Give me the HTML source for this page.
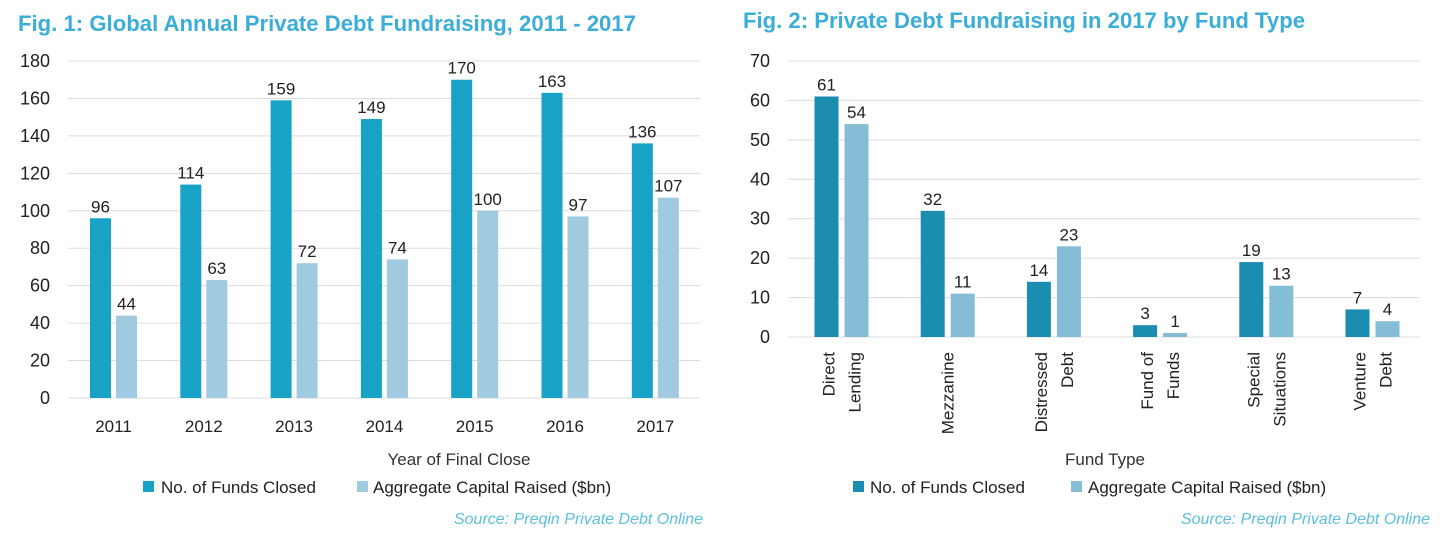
<!DOCTYPE html>
<html><head><meta charset="utf-8"><style>
body{margin:0;background:#fff;width:1447px;height:537px;overflow:hidden;font-family:"Liberation Sans",sans-serif}
svg text{font-family:"Liberation Sans",sans-serif}
</style></head><body>
<svg id="s" width="1447" height="537">
<text x="18" y="31" font-size="22" font-weight="bold" fill="#3aaed8" textLength="618" lengthAdjust="spacingAndGlyphs">Fig. 1: Global Annual Private Debt Fundraising, 2011 - 2017</text>
<text x="743" y="28" font-size="22" font-weight="bold" fill="#3aaed8" textLength="562" lengthAdjust="spacingAndGlyphs">Fig. 2: Private Debt Fundraising in 2017 by Fund Type</text>
<text x="459" y="465" font-size="17" text-anchor="middle" fill="#333">Year of Final Close</text>
<text x="1105" y="465" font-size="17" text-anchor="middle" fill="#333">Fund Type</text>
<g>
<rect x="143" y="481" width="11" height="11" fill="#17a2c6"/><text x="161" y="493" font-size="17" fill="#222">No. of Funds Closed</text>
<rect x="357" y="481" width="11" height="11" fill="#9fcadf"/><text x="373" y="493" font-size="17" fill="#222">Aggregate Capital Raised ($bn)</text>
</g>
<g>
<rect x="853" y="481" width="11" height="11" fill="#1a8db0"/><text x="870" y="493" font-size="17" fill="#222">No. of Funds Closed</text>
<rect x="1071" y="481" width="11" height="11" fill="#85bcd6"/><text x="1088" y="493" font-size="17" fill="#222">Aggregate Capital Raised ($bn)</text>
</g>
<text x="703" y="524" font-size="16" font-style="italic" text-anchor="end" fill="#5bbfe0">Source: Preqin Private Debt Online</text>
<text x="1430" y="524" font-size="16" font-style="italic" text-anchor="end" fill="#5bbfe0">Source: Preqin Private Debt Online</text>
</svg>
<script>
const years=["2011","2012","2013","2014","2015","2016","2017"];
const funds1=[96,114,159,149,170,163,136];
const capital1=[44,63,72,74,100,97,107];
const ticks1=[0,20,40,60,80,100,120,140,160,180];
const types=[["Direct","Lending"],["Mezzanine"],["Distressed","Debt"],["Fund of","Funds"],["Special","Situations"],["Venture","Debt"]];
const funds2=[61,32,14,3,19,7];
const capital2=[54,11,23,1,13,4];
const ticks2=[0,10,20,30,40,50,60,70];
const NS="http://www.w3.org/2000/svg",svg=document.getElementById('s');
function mk(t,a,txt){const e=document.createElementNS(NS,t);for(const k in a)e.setAttribute(k,a[k]);if(txt!=null)e.textContent=txt;svg.appendChild(e);return e;}
function chart(o){
 const y=v=>o.y0-(v-o.min)/(o.max-o.min)*(o.y0-o.y1);
 o.ticks.forEach(t=>{
  const g=mk('line',{x1:o.gx0,x2:o.gx1,y1:y(t),y2:y(t),stroke:'#dcdcdc','stroke-width':1});
  
  
  const l=mk('text',{x:o.tx,y:y(t)+6,'font-size':18,'text-anchor':'end',fill:'#222'},t);
  
  
 });
 o.cats.forEach((c,i)=>{
  const cx=o.cx0+i*o.step;
  [[o.s1,o.c1,-1],[o.s2,o.c2,1]].forEach(([s,col,d])=>{
   const x=d<0?cx-o.gap/2-o.bw:cx+o.gap/2,v=s[i];
   const r=mk('rect',{x:x,y:y(v),width:o.bw,height:o.y0-y(v),fill:col});
   
   
   const t=mk('text',{x:x+o.bw/2,y:y(v)-6,'font-size':17,'text-anchor':'middle',fill:'#222'},v);
   
   
  });
  o.lab(c,cx);
 });
}
chart({cats:years,s1:funds1,s2:capital1,ticks:ticks1,min:0,max:180,y0:398,y1:61,gx0:68,gx1:700,tx:50,cx0:113.5,step:90.3,bw:21,gap:5,c1:'#17a2c6',c2:'#9fcadf',
 lab:(c,cx)=>{const t=mk('text',{x:cx,y:432,'font-size':17,'text-anchor':'middle',fill:'#222'},c);
  
  }});
chart({cats:types,s1:funds2,s2:capital2,ticks:ticks2,min:0,max:70,y0:337,y1:61,gx0:788,gx1:1420,tx:770,cx0:841.5,step:106.2,bw:24,gap:6,c1:'#1a8db0',c2:'#85bcd6',
 lab:(c,cx)=>{const n=c.length;c.forEach((w,j)=>{const xx=cx+(j-(n-1)/2)*26+6;
  const t=mk('text',{x:xx,y:352,'font-size':17,'text-anchor':'end',fill:'#222',transform:`rotate(-90 ${xx} 352)`},w);
  
  });}});
</script>
</body></html>
